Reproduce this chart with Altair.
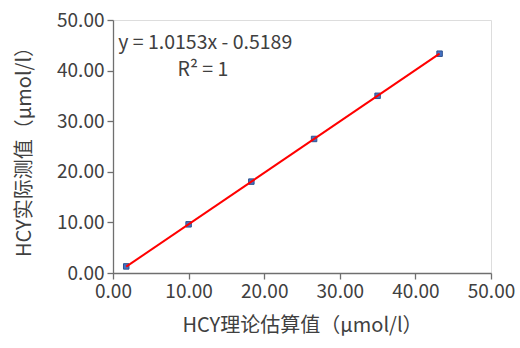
import altair as alt
import pandas as pd

# Theoretical vs measured HCY concentrations (μmol/l)
theoretical = [1.75, 10.0, 18.3, 26.6, 35.0, 43.2]
measured = [1.30, 9.62, 18.06, 26.49, 35.02, 43.34]

# Linear trendline reported on the chart
slope = 1.0153
intercept = -0.5189

FONT = "Noto Sans CJK SC"
TEXT = "#404040"
AXIS = "#6f6f6f"

points = pd.DataFrame({"x": theoretical, "y": measured})
fit = pd.DataFrame({
    "x": [min(theoretical), max(theoretical)],
    "y": [slope * min(theoretical) + intercept, slope * max(theoretical) + intercept],
})
notes = pd.DataFrame({
    "x": [12.2, 11.9],
    "y": [45.4, 40.2],
    "t": [f"y = {slope}x - {abs(intercept)}", "R² = 1"],
})

xscale = alt.Scale(domain=[0, 50], nice=False, zero=True)
yscale = alt.Scale(domain=[0, 50], nice=False, zero=True)
ticks = [0, 10, 20, 30, 40, 50]

x_enc = alt.X("x:Q", scale=xscale, title="HCY理论估算值（μmol/l）",
              axis=alt.Axis(values=ticks, format=".2f"))
y_enc = alt.Y("y:Q", scale=yscale, title="HCY实际测值（μmol/l）",
              axis=alt.Axis(values=ticks, format=".2f"))

line = alt.Chart(fit).mark_line(color="#ff0000", strokeWidth=2).encode(x=x_enc, y=y_enc)
dots = alt.Chart(points).mark_square(size=30, color="#4472c4", stroke="#2f528f",
                                     strokeWidth=1, opacity=1).encode(x=x_enc, y=y_enc)
labels = alt.Chart(notes).mark_text(font=FONT, fontSize=19.5, color=TEXT).encode(
    x=alt.X("x:Q", scale=xscale), y=alt.Y("y:Q", scale=yscale), text="t:N")

chart = (
    alt.layer(dots, line, labels)
    .properties(width=378, height=253,
                padding={"left": 113, "top": 20, "right": 29, "bottom": 75},
                autosize=alt.AutoSizeParams(type="none"))
    .configure_view(stroke=None)
    .configure(background="white")
    .configure_axis(
        grid=False, domainColor=AXIS, tickColor=AXIS, domainWidth=1.3,
        tickSize=6, tickWidth=1.3, labelFlush=False,
        labelFont=FONT, labelFontSize=19, labelColor=TEXT, labelPadding=3,
        titleFont=FONT, titleFontSize=20, titleColor=TEXT, titleFontWeight="normal",
    )
    .configure_axisX(titlePadding=14)
    .configure_axisY(titlePadding=22)
)

chart.save("out.html", embed_options={"renderer": "svg", "actions": False})
